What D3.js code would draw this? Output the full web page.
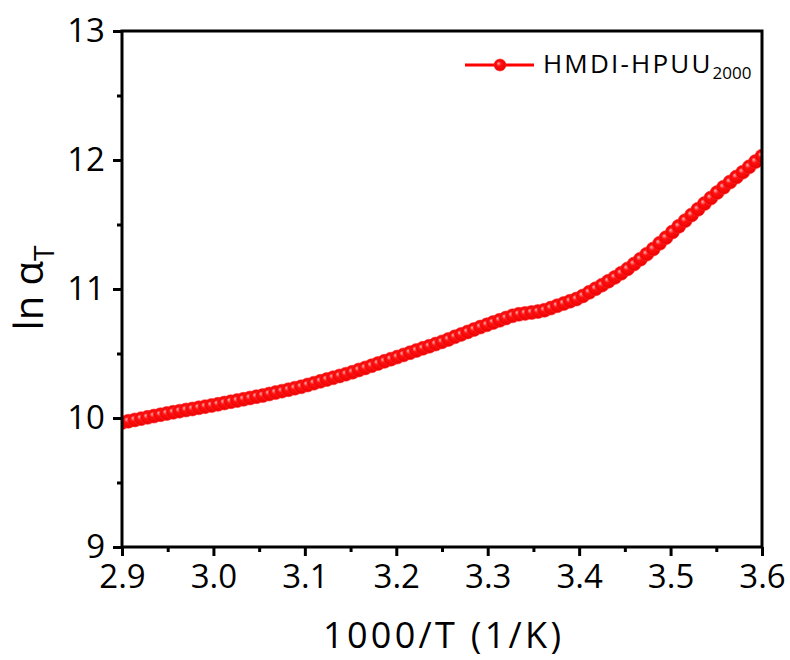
<!DOCTYPE html>
<html>
<head>
<meta charset="utf-8">
<script src="https://cdn.jsdelivr.net/npm/d3@7/dist/d3.min.js"></script>
<style>
  html, body { margin: 0; padding: 0; background: #fff; }
  svg { display: block; font-family: "Open Sans", "Noto Sans", sans-serif; }
</style>
</head>
<body>
<svg id="chart" width="790" height="660"></svg>
<script>
// Shift factor vs. inverse temperature for HMDI-HPUU2000
const invT = [
  2.900, 2.907, 2.914, 2.921, 2.928, 2.935, 2.942, 2.949, 2.956, 2.963,
  2.970, 2.977, 2.984, 2.991, 2.998, 3.005, 3.012, 3.019, 3.026, 3.033,
  3.040, 3.047, 3.054, 3.061, 3.068, 3.075, 3.082, 3.089, 3.096, 3.103,
  3.110, 3.117, 3.124, 3.131, 3.138, 3.145, 3.152, 3.159, 3.166, 3.173,
  3.180, 3.187, 3.194, 3.201, 3.208, 3.215, 3.222, 3.229, 3.236, 3.243,
  3.250, 3.257, 3.264, 3.271, 3.278, 3.285, 3.292, 3.299, 3.306, 3.313,
  3.320, 3.327, 3.334, 3.341, 3.348, 3.355, 3.362, 3.369, 3.376, 3.383,
  3.390, 3.397, 3.404, 3.411, 3.418, 3.425, 3.432, 3.439, 3.446, 3.453,
  3.460, 3.467, 3.474, 3.481, 3.488, 3.495, 3.502, 3.509, 3.516, 3.523,
  3.530, 3.537, 3.544, 3.551, 3.558, 3.565, 3.572, 3.579, 3.586, 3.593,
  3.600
];
const lnAT = [
  9.965, 9.975, 9.985, 9.995, 10.005, 10.015, 10.025, 10.035, 10.044, 10.053,
  10.062, 10.070, 10.079, 10.088, 10.097, 10.106, 10.116, 10.126, 10.135, 10.145,
  10.155, 10.165, 10.174, 10.186, 10.197, 10.208, 10.219, 10.231, 10.242, 10.256,
  10.270, 10.284, 10.298, 10.312, 10.326, 10.340, 10.355, 10.372, 10.388, 10.405,
  10.422, 10.439, 10.456, 10.472, 10.489, 10.506, 10.523, 10.540, 10.556, 10.573,
  10.590, 10.609, 10.629, 10.648, 10.667, 10.686, 10.705, 10.722, 10.740, 10.757,
  10.775, 10.792, 10.804, 10.811, 10.818, 10.825, 10.835, 10.852, 10.870, 10.887,
  10.905, 10.922, 10.946, 10.974, 11.002, 11.030, 11.060, 11.090, 11.122, 11.156,
  11.193, 11.231, 11.270, 11.310, 11.354, 11.398, 11.442, 11.486, 11.530, 11.574,
  11.618, 11.662, 11.705, 11.748, 11.789, 11.829, 11.868, 11.906, 11.947, 11.988,
  12.030
];
const xTicks = [2.9, 3.0, 3.1, 3.2, 3.3, 3.4, 3.5, 3.6];
const xMinorTicks = [2.95, 3.05, 3.15, 3.25, 3.35, 3.45, 3.55];
const yTicks = [9, 10, 11, 12, 13];
const yMinorTicks = [9.5, 10.5, 11.5, 12.5];
const seriesName = "HMDI-HPUU";
const seriesSub = "2000";

const data = invT.map((x, i) => ({ x, y: lnAT[i] }));

const margin = { left: 122, right: 28, top: 31, bottom: 113 };
const W = 790, H = 660;
const iw = W - margin.left - margin.right;
const ih = H - margin.top - margin.bottom;

const svg = d3.select("#chart");
const x = d3.scaleLinear().domain([2.9, 3.6]).range([0, iw]);
const y = d3.scaleLinear().domain([9, 13]).range([ih, 0]);

const defs = svg.append("defs");
defs.append("clipPath").attr("id", "plotClip")
  .append("rect").attr("x", 0).attr("y", 0).attr("width", iw).attr("height", ih);
const grad = defs.append("radialGradient").attr("id", "ball")
  .attr("cx", "50%").attr("cy", "50%").attr("r", "55%")
  .attr("fx", "35%").attr("fy", "35%");
grad.append("stop").attr("offset", "0%").attr("stop-color", "#ffb0b0");
grad.append("stop").attr("offset", "35%").attr("stop-color", "#ff1010");
grad.append("stop").attr("offset", "100%").attr("stop-color", "#e80000");

const g = svg.append("g").attr("transform", `translate(${margin.left},${margin.top})`);

// data: connecting line + sphere markers
const plot = g.append("g").attr("clip-path", "url(#plotClip)");
plot.append("path").datum(data)
  .attr("fill", "none").attr("stroke", "#ff0000").attr("stroke-width", 3)
  .attr("d", d3.line().x(d => x(d.x)).y(d => y(d.y)));
plot.selectAll("circle.pt").data(data).enter().append("circle")
  .attr("class", "pt")
  .attr("cx", d => x(d.x)).attr("cy", d => y(d.y)).attr("r", 7)
  .attr("fill", "url(#ball)")
  .attr("stroke", "#ff2a2a").attr("stroke-width", 0.6);

// axes
const fsTick = 33;
const styleAxis = sel => {
  sel.select(".domain").remove();
  sel.selectAll("line").attr("stroke", "#000").attr("stroke-width", 3);
  sel.selectAll("text").attr("fill", "#000").style("font-size", fsTick + "px")
    .style("font-family", "'Open Sans', 'Noto Sans', sans-serif");
};

const xAxis = g.append("g").attr("transform", `translate(0,${ih})`)
  .call(d3.axisBottom(x).tickValues(xTicks).tickFormat(d3.format(".1f"))
    .tickSize(9).tickPadding(9));
styleAxis(xAxis);
g.append("g").attr("transform", `translate(0,${ih})`)
  .call(d3.axisBottom(x).tickValues(xMinorTicks).tickFormat("").tickSize(5))
  .call(styleAxis);

const yAxis = g.append("g")
  .call(d3.axisLeft(y).tickValues(yTicks).tickFormat(d3.format("d"))
    .tickSize(9).tickPadding(8));
styleAxis(yAxis);
g.append("g")
  .call(d3.axisLeft(y).tickValues(yMinorTicks).tickFormat("").tickSize(5))
  .call(styleAxis);

// frame
g.append("rect").attr("x", 0).attr("y", 0).attr("width", iw).attr("height", ih)
  .attr("fill", "none").attr("stroke", "#000").attr("stroke-width", 3);

// axis titles
svg.append("text")
  .attr("x", margin.left + iw / 2).attr("y", 648)
  .attr("text-anchor", "middle")
  .attr("textLength", 238).attr("lengthAdjust", "spacing")
  .style("font-size", "36px").attr("fill", "#000")
  .text("1000/T (1/K)");

const yt = svg.append("text")
  .attr("transform", `translate(43,${margin.top + ih / 2 - 1}) rotate(-90)`)
  .attr("text-anchor", "middle")
  .style("font-size", "40px").attr("fill", "#000");
yt.append("tspan").text("ln α");
yt.append("tspan").attr("dy", 11).style("font-size", "28px").text("T");

// legend
const lg = svg.append("g").attr("transform", "translate(465,65)");
lg.append("line").attr("x1", 0).attr("x2", 69).attr("y1", 0).attr("y2", 0)
  .attr("stroke", "#ff0000").attr("stroke-width", 3);
lg.append("circle").attr("cx", 35).attr("cy", 0).attr("r", 6)
  .attr("fill", "url(#ball)").attr("stroke", "#ff2a2a").attr("stroke-width", 0.6);
const lt = lg.append("text").attr("x", 78).attr("y", 8)
  .style("font-size", "26px").attr("fill", "#000");
lt.append("tspan").style("letter-spacing", "2.2px").text(seriesName);
lt.append("tspan").attr("dy", 6).style("font-size", "17px").text(seriesSub);
</script>
</body>
</html>
